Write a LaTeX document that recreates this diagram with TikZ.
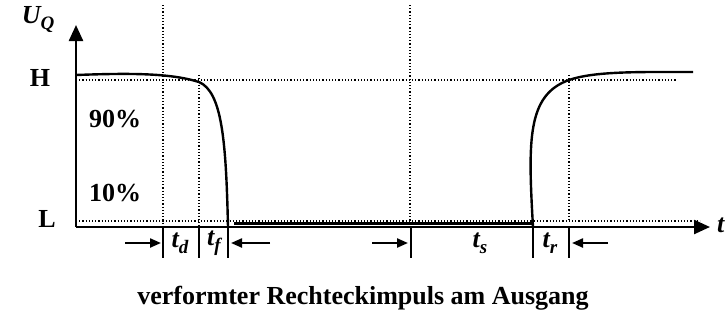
\documentclass[tikz,border=0pt]{standalone}
\usepackage{fontspec}
\setmainfont{Liberation Serif}
\usetikzlibrary{arrows.meta}
\newcommand{\lowsub}[1]{\raisebox{-6pt}{\fontsize{19}{19}\selectfont #1}}
\tikzset{axis/.style={-{Triangle[length=16pt,width=14pt]},line width=2.4pt},
 guide/.style={dotted,line width=1.2pt},
 tick/.style={line width=2.4pt},
 span/.style={-{Triangle[length=11pt,width=9pt]},line width=2.2pt},
 signal/.style={line width=2.4pt},
 every node/.style={font=\bfseries\fontsize{26}{30}\selectfont}}

\begin{document}
\begin{tikzpicture}[x=1pt,y=-1pt]
\useasboundingbox (0,0) rectangle (727,332);
% axes
\coordinate (O) at (76,227);
\coordinate (ytop) at (76,25);
\coordinate (xend) at (710,227);
\draw[axis] (O)--(ytop);
\draw[axis] (O)--(xend);
\node (uq) at (38,20) {\textit{U\lowsub{Q}}};
\node (tlab) at (721,225) {\textit{t}};
% levels
\node (hlev) at (40,78) {H};
\node (llev) at (47,219) {L};
\node (p90) at (115,119) {90\%};
\node (p10) at (115,193) {10\%};
\draw[guide] (76,80)--(677,80);
\draw[guide] (76,221)--(700,221);
% time marks
\draw[guide] (163,5)--(163,227);
\draw[guide] (199,75)--(199,227);
\draw[guide] (410,5)--(410,227);
\draw[guide] (569,75)--(569,221);
\foreach \x in {163,199,228,411,533,569}
  \draw[tick] (\x,227)--(\x,258);
% signal
\draw[signal] (76,75) .. controls (130,73) and (170,73) .. (199,82)
  .. controls (222,92) and (226,140) .. (228,227);
\draw[line width=3pt] (234,223.5)--(533,223.5);
\draw[signal] (533,227) .. controls (528,140) and (527,95) .. (569,80)
  .. controls (595,71) and (640,72) .. (693,72);
% spans
\coordinate (a1) at (125,243);
\coordinate (a2) at (161,243);
\coordinate (b1) at (270,243);
\coordinate (b2) at (231,243);
\coordinate (c1) at (372,243);
\coordinate (c2) at (408,243);
\coordinate (d1) at (608,243);
\coordinate (d2) at (572,243);
\draw[span] (a1)--(a2);
\draw[span] (b1)--(b2);
\draw[span] (c1)--(c2);
\draw[span] (d1)--(d2);
\node (td) at (180,243) {\textit{t\lowsub{d}}};
\node (tf) at (214,243) {\textit{t\lowsub{f}}};
\node (ts) at (480,243) {\textit{t\lowsub{s}}};
\node (tr) at (550,243) {\textit{t\lowsub{r}}};
\node (cap) at (363,298) {verformter Rechteckimpuls am Ausgang};
\end{tikzpicture}
\end{document}
